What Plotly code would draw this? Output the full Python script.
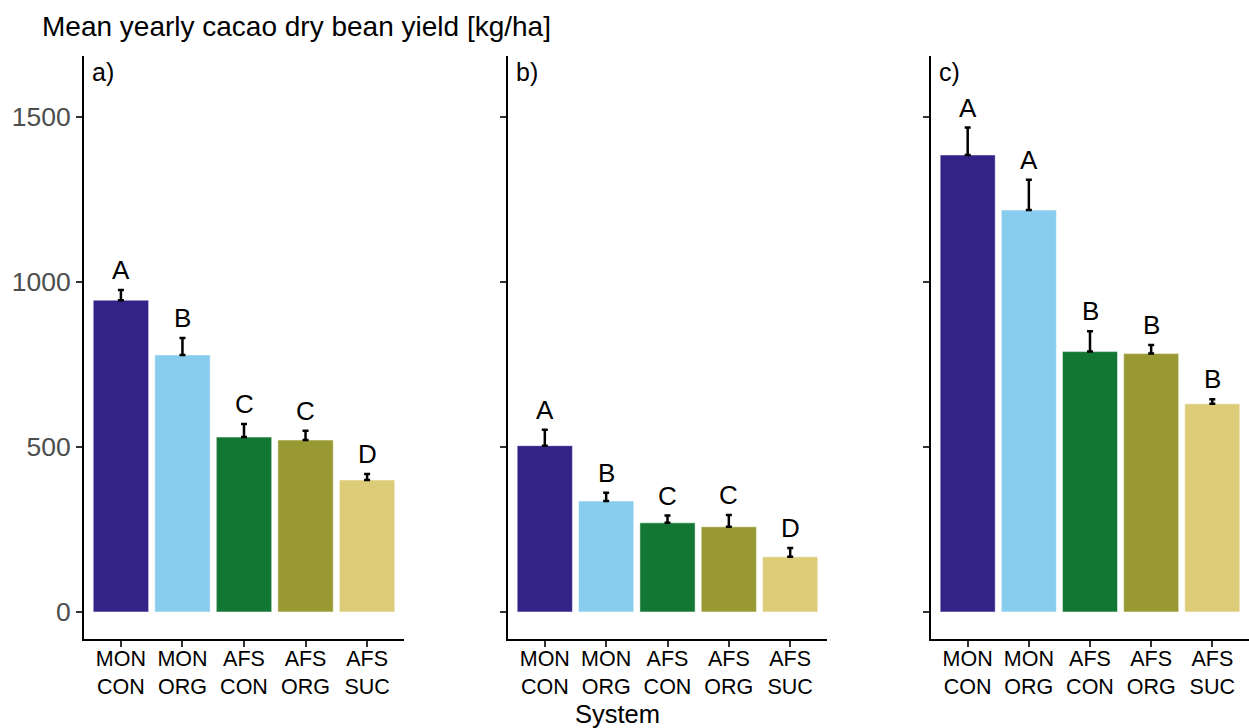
import plotly.graph_objects as go

categories = ["MON<br>CON", "MON<br>ORG", "AFS<br>CON", "AFS<br>ORG", "AFS<br>SUC"]
colors = ["#332288", "#88CCEE", "#117733", "#999933", "#DDCC77"]

panel_labels = ["a)", "b)", "c)"]
yield_a = [945, 779, 530, 521, 400]
err_a = [31, 51, 40, 28, 18]
letters_a = ["A", "B", "C", "C", "D"]

yield_b = [504, 336, 270, 258, 167]
err_b = [48, 25, 22, 36, 27]
letters_b = ["A", "B", "C", "C", "D"]

yield_c = [1385, 1218, 789, 783, 631]
err_c = [83, 92, 62, 26, 14]
letters_c = ["A", "A", "B", "B", "B"]

y_ticks = [0, 500, 1000, 1500]

FONT = "Liberation Sans, Arial, sans-serif"
W, H = 1249, 728

panels = [(yield_a, err_a, letters_a), (yield_b, err_b, letters_b), (yield_c, err_c, letters_c)]
x_domains = [[84 / W, 404 / W], [508 / W, 827 / W], [931 / W, 1.0]]
y_domain = [(H - 639) / H, (H - 56) / H]

fig = go.Figure()
for i, (vals, errs, lets) in enumerate(panels):
    ax = "" if i == 0 else str(i + 1)
    fig.add_trace(go.Bar(
        x=categories, y=vals,
        marker=dict(color=colors, line=dict(color="white", width=0.5)),
        width=0.9,
        error_y=dict(type="data", array=errs, arrayminus=[0] * len(errs), symmetric=False,
                     color="black", thickness=2.5, width=3),
        xaxis="x" + ax, yaxis="y" + ax, showlegend=False, hoverinfo="x+y",
    ))
    for c, v, e, l in zip(categories, vals, errs, lets):
        fig.add_annotation(x=c, y=v + e, text=l, showarrow=False, xref="x" + ax, yref="y" + ax,
                           yanchor="middle", yshift=20, font=dict(size=26, color="black", family=FONT))
    fig.add_annotation(x=x_domains[i][0], y=y_domain[1], xref="paper", yref="paper",
                       text=panel_labels[i], showarrow=False, xanchor="left", yanchor="top",
                       xshift=6, yshift=0, font=dict(size=25, color="black", family=FONT))
    xa = dict(domain=x_domains[i], type="category", range=[-0.6, 4.6], anchor="y" + ax,
              showline=True, linecolor="black", linewidth=2, ticks="outside", ticklen=6,
              tickwidth=2, tickcolor="#333333", tickfont=dict(size=21.5, color="black", family=FONT),
              ticklabelstandoff=-7,
              showgrid=False, zeroline=False, fixedrange=True)
    ya = dict(domain=y_domain, range=[-82, 1685], anchor="x" + ax, tickvals=y_ticks,
              showline=True, linecolor="black", linewidth=2, ticks="outside", ticklen=6,
              tickwidth=2, tickcolor="#333333", tickfont=dict(size=26.5, color="#4d4d4d", family=FONT),
              showticklabels=(i == 0), showgrid=False, zeroline=False)
    fig.update_layout(**{"xaxis" + ax: xa, "yaxis" + ax: ya})

fig.add_annotation(x=40 / W, y=1 - 27 / H, xref="paper", yref="paper", xanchor="left", yanchor="middle",
                   text="Mean yearly cacao dry bean yield [kg/ha]", showarrow=False,
                   font=dict(size=28, color="black", family=FONT))
fig.add_annotation(x=617 / W, y=0, xref="paper", yref="paper", xanchor="center", yanchor="bottom",
                   text="System", showarrow=False, borderpad=0, yshift=-1,
                   font=dict(size=25.5, color="black", family=FONT))

fig.update_layout(width=W, height=H, margin=dict(l=0, r=0, t=0, b=0),
                  plot_bgcolor="white", paper_bgcolor="white", bargap=0.1)
fig.write_html("out.html", config={"displayModeBar": False},
               post_script="document.body.style.margin='0';document.body.style.overflow='hidden';")
